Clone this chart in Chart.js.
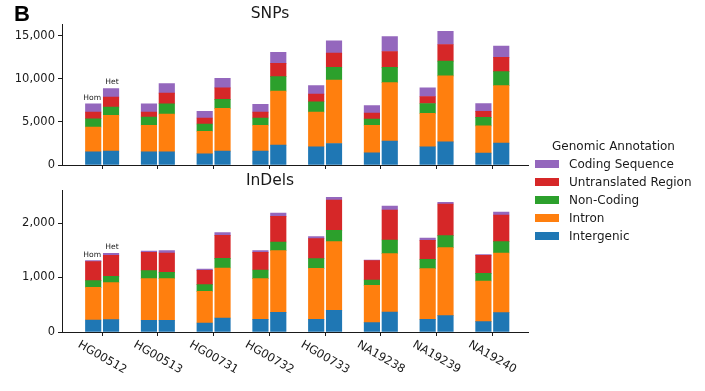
<!DOCTYPE html>
<html>
<head>
<meta charset="utf-8">
<script src="https://cdn.jsdelivr.net/npm/chart.js@4/dist/chart.umd.min.js"></script>
<style>
  html, body { margin: 0; padding: 0; background: #fff; }
  #wrap { position: relative; width: 705px; height: 391px; overflow: hidden; font-family: "DejaVu Sans", sans-serif; color: #1a1a1a; }
  canvas { position: absolute; left: 0; }
  #snpCanvas { top: 0; }
  #indelCanvas { top: 171px; }
  #legend { position: absolute; left: 535px; top: 137px; width: 160px; font-size: 12px; line-height: 18px; }
  #legend .title { text-align: center; width: 157px; }
  #legend .row { display: flex; align-items: center; height: 18px; }
  #legend .patch { width: 24px; height: 8.5px; margin-right: 10px; flex: none; }
  #panelTag { position: absolute; left: 14px; top: 1px; font: bold 22px "Liberation Sans", Arial, sans-serif; color: #000; }
</style>
</head>
<body>
<div id="wrap">
  <canvas id="snpCanvas" width="705" height="175"></canvas>
  <canvas id="indelCanvas" width="705" height="220"></canvas>
  <div id="panelTag">B</div>
  <div id="legend"></div>
</div>
<script>
// Samples along the x axis
const samples = ['HG00512', 'HG00513', 'HG00731', 'HG00732', 'HG00733', 'NA19238', 'NA19239', 'NA19240'];

// Annotation classes, bottom of the stack first
const annotations = ['Intergenic', 'Intron', 'Non-Coding', 'Untranslated Region', 'Coding Sequence'];
const annotationColors = ['#1f77b4', '#ff7f0e', '#2ca02c', '#d62728', '#9467bd'];

// SNP counts, homozygous
const snpHomIntergenic = [1540, 1540, 1310, 1620, 2120, 1420, 2120, 1380];
const snpHomIntron     = [2880, 3080, 2610, 3000, 4030, 3200, 3880, 3160];
const snpHomNonCoding  = [960, 960, 850, 840, 1200, 730, 1150, 1000];
const snpHomUTR        = [770, 570, 690, 690, 880, 690, 810, 690];
const snpHomCoding     = [970, 970, 770, 890, 1000, 880, 1000, 920];

// SNP counts, heterozygous
const snpHetIntergenic = [1620, 1540, 1620, 2310, 2500, 2770, 2690, 2540];
const snpHetIntron     = [4150, 4380, 4960, 6270, 7380, 6810, 7660, 6690];
const snpHetNonCoding  = [960, 1200, 1040, 1690, 1470, 1770, 1730, 1620];
const snpHetUTR        = [1150, 1230, 1340, 1540, 1650, 1840, 1920, 1650];
const snpHetCoding     = [1000, 1110, 1120, 1270, 1420, 1730, 1540, 1310];

// InDel counts, homozygous
const indelHomIntergenic = [220, 214, 165, 232, 232, 171, 232, 190];
const indelHomIntron     = [600, 765, 581, 747, 936, 685, 930, 746];
const indelHomNonCoding  = [122, 146, 123, 159, 178, 98, 171, 140];
const indelHomUTR        = [348, 337, 262, 324, 367, 355, 349, 331];
const indelHomCoding     = [20, 24, 25, 30, 36, 12, 43, 12];

// InDel counts, heterozygous
const indelHetIntergenic = [226, 214, 257, 361, 398, 367, 300, 355];
const indelHetIntron     = [679, 765, 917, 1131, 1259, 1070, 1247, 1095];
const indelHetNonCoding  = [116, 116, 178, 159, 208, 251, 221, 207];
const indelHetUTR        = [386, 355, 422, 471, 557, 551, 581, 490];
const indelHetCoding     = [36, 42, 49, 61, 49, 73, 30, 55];

// Y axis tick values
const snpTicks = [0, 5000, 10000, 15000];
const indelTicks = [0, 1000, 2000];

// Zygosity tags shown over the first sample
const zygosityTags = ['Hom', 'Het'];

const snpHom = [snpHomIntergenic, snpHomIntron, snpHomNonCoding, snpHomUTR, snpHomCoding];
const snpHet = [snpHetIntergenic, snpHetIntron, snpHetNonCoding, snpHetUTR, snpHetCoding];
const indelHom = [indelHomIntergenic, indelHomIntron, indelHomNonCoding, indelHomUTR, indelHomCoding];
const indelHet = [indelHetIntergenic, indelHetIntron, indelHetNonCoding, indelHetUTR, indelHetCoding];

const BAR_OFFSET = 0.16;   // half spacing between Hom and Het bars, in category units
const TEXT = '#1a1a1a';
const FONT = '"DejaVu Sans", sans-serif';

function totals(layers) {
  return samples.map((_, i) => layers.reduce((s, arr) => s + arr[i], 0));
}

function buildDatasets(hom, het) {
  return annotations.map((name, k) => ({
    label: name,
    backgroundColor: annotationColors[k],
    borderWidth: 0,
    stack: 'all',
    barThickness: 15.5,
    data: samples.flatMap((_, i) => [
      { x: i - BAR_OFFSET, y: hom[k][i] },
      { x: i + BAR_OFFSET, y: het[k][i] }
    ])
  }));
}

// Small "Hom"/"Het" captions above the first pair of bars
function zygosityPlugin(hom, het) {
  const homTot = totals(hom), hetTot = totals(het);
  return {
    id: 'zygosity',
    afterDatasetsDraw(chart) {
      const { ctx, scales: { x, y } } = chart;
      ctx.save();
      ctx.font = '7.6px ' + FONT;
      ctx.fillStyle = TEXT;
      ctx.textAlign = 'center';
      ctx.textBaseline = 'bottom';
      ctx.fillText(zygosityTags[0], x.getPixelForValue(0 - BAR_OFFSET) - 1, y.getPixelForValue(homTot[0]) - 2);
      ctx.fillText(zygosityTags[1], x.getPixelForValue(0 + BAR_OFFSET) + 1, y.getPixelForValue(hetTot[0]) - 3);
      ctx.restore();
    }
  };
}

// Sample names under the lower panel, slanted downward to the right
const slantedLabels = {
  id: 'slantedLabels',
  afterDraw(chart) {
    const { ctx, chartArea, scales: { x } } = chart;
    const size = 11.5;
    const ang = 30 * Math.PI / 180;
    ctx.save();
    ctx.font = size + 'px ' + FONT;
    ctx.fillStyle = TEXT;
    ctx.textAlign = 'center';
    ctx.textBaseline = 'middle';
    samples.forEach((name, i) => {
      const w = ctx.measureText(name).width;
      const boxH = w * Math.sin(ang) + size * Math.cos(ang);
      const cx = x.getPixelForValue(i);
      const cy = chartArea.bottom + 7 + boxH / 2;
      ctx.save();
      ctx.translate(cx, cy);
      ctx.rotate(ang);
      ctx.fillText(name, 0, 0);
      ctx.restore();
    });
    ctx.restore();
  }
};

function makeOptions(title, tickValues, maxY, xHeight) {
  const axisColor = '#1a1a1a';
  return {
    responsive: false,
    animation: false,
    devicePixelRatio: 1,
    layout: { padding: { left: 12, right: 177, top: 0, bottom: 0 } },
    plugins: {
      legend: { display: false },
      tooltip: { enabled: false },
      title: {
        display: true,
        text: title,
        color: TEXT,
        font: { family: FONT, size: 15.5, weight: 'normal' },
        padding: { top: title === 'SNPs' ? 5 : 1, bottom: title === 'SNPs' ? 1 : 0 }
      }
    },
    scales: {
      x: {
        type: 'linear',
        offset: false,
        min: -0.72,
        max: 7.64,
        afterBuildTicks: s => { s.ticks = samples.map((_, i) => ({ value: i })); },
        afterFit: s => { s.height = xHeight; },
        grid: { display: true, offset: false, drawOnChartArea: false, drawTicks: true, tickLength: 4, color: axisColor },
        border: { display: true, color: axisColor, width: 1 },
        ticks: { display: false }
      },
      y: {
        type: 'linear',
        stacked: true,
        min: 0,
        max: maxY,
        afterBuildTicks: s => { s.ticks = tickValues.map(v => ({ value: v })); },
        afterFit: s => { s.width = 50; },
        grid: { display: true, drawOnChartArea: false, drawTicks: true, tickLength: 4, color: axisColor },
        border: { display: true, color: axisColor, width: 1 },
        ticks: {
          color: TEXT,
          padding: 3,
          font: { family: FONT, size: 11.5 },
          callback: v => Number(v).toLocaleString('en-US')
        }
      }
    }
  };
}

const snpMax = Math.max(...totals(snpHom), ...totals(snpHet)) * 1.05;
const indelMax = Math.max(...totals(indelHom), ...totals(indelHet)) * 1.05;

new Chart(document.getElementById('snpCanvas'), {
  type: 'bar',
  data: { datasets: buildDatasets(snpHom, snpHet) },
  options: makeOptions('SNPs', snpTicks, snpMax, 10),
  plugins: [zygosityPlugin(snpHom, snpHet)]
});

new Chart(document.getElementById('indelCanvas'), {
  type: 'bar',
  data: { datasets: buildDatasets(indelHom, indelHet) },
  options: makeOptions('InDels', indelTicks, indelMax, 59),
  plugins: [zygosityPlugin(indelHom, indelHet), slantedLabels]
});

// Shared legend, top entry is the top of the stack
const legend = document.getElementById('legend');
const head = document.createElement('div');
head.className = 'title';
head.textContent = 'Genomic Annotation';
legend.appendChild(head);
annotations.map((name, k) => ({ name, color: annotationColors[k] })).reverse().forEach(item => {
  const row = document.createElement('div');
  row.className = 'row';
  const patch = document.createElement('span');
  patch.className = 'patch';
  patch.style.background = item.color;
  const label = document.createElement('span');
  label.textContent = item.name;
  row.appendChild(patch);
  row.appendChild(label);
  legend.appendChild(row);
});
</script>
</body>
</html>
